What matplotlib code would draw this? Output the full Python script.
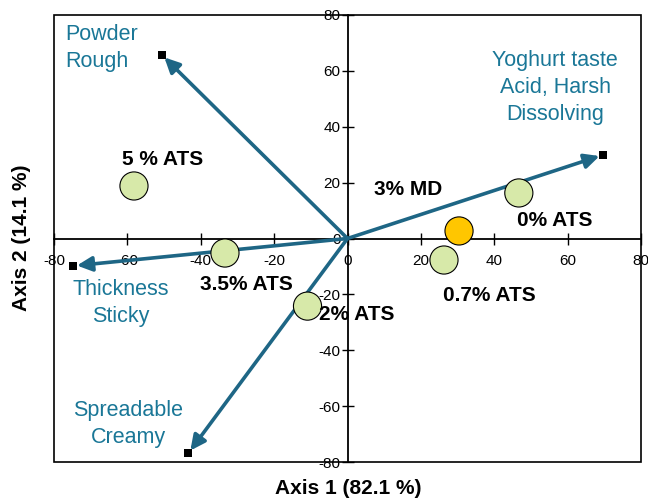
import matplotlib
matplotlib.use("Agg")
import matplotlib.pyplot as plt
from matplotlib.patches import Rectangle

plt.rcParams["font.family"] = ["Liberation Sans", "DejaVu Sans"]
plt.rcParams["axes.unicode_minus"] = False

# Attribute vectors (loadings, scaled)
vec_labels = ["Powder\nRough", "Yoghurt taste\nAcid, Harsh\nDissolving",
              "Thickness\nSticky", "Spreadable\nCreamy"]
vec_x = [-50.6, 69.6, -74.7, -43.4]
vec_y = [65.7, 29.9, -9.8, -76.9]
vec_label_x = [-77.0, 56.6, -61.7, -59.7]
vec_label_y = [68.2, 54.1, -23.1, -66.4]
vec_label_ha = ["left", "center", "center", "center"]

# Samples (scores)
samples = ["5 % ATS", "3.5% ATS", "2% ATS", "0.7% ATS", "3% MD", "0% ATS"]
score_x = [-58.2, -33.4, -10.9, 26.3, 30.4, 46.7]
score_y = [18.8, -5.2, -24.2, -7.7, 2.7, 16.3]
sample_colors = ["#D7E9A9", "#D7E9A9", "#D7E9A9", "#D7E9A9", "#FFC600", "#D7E9A9"]
sample_label_x = [-50.4, -27.6, 2.6, 38.8, 16.5, 56.6]
sample_label_y = [28.1, -16.5, -27.3, -20.4, 17.7, 6.4]

ticks = [-80, -60, -40, -20, 0, 20, 40, 60, 80]

arrow_col = "#1E6685"
text_col = "#1A7797"

fig = plt.figure(figsize=(6.48, 5.0), dpi=100)
ax = fig.add_axes([54 / 648, 1 - 462 / 500, 587 / 648, 447 / 500])
ax.set_xlim(-80, 80)
ax.set_ylim(-80, 80)

# axes crossing at the origin
ax.spines["left"].set_position(("data", 0))
ax.spines["bottom"].set_position(("data", 0))
ax.spines["top"].set_visible(False)
ax.spines["right"].set_visible(False)
for s in ("left", "bottom"):
    ax.spines[s].set_linewidth(1.3)
    ax.spines[s].set_color("black")
ax.set_xticks(ticks)
ax.set_yticks(ticks)
ax.set_xticklabels([str(t) for t in ticks])
ax.set_yticklabels([str(t) for t in ticks])
ax.tick_params(axis="both", direction="inout", length=8, width=1.0,
               labelsize=11, colors="black")
ax.tick_params(axis="x", pad=7)
ax.tick_params(axis="y", pad=1)

# outer frame
ax.add_patch(Rectangle((0, 0), 1, 1, transform=ax.transAxes, fill=False,
                       edgecolor="black", linewidth=1.2, clip_on=False, zorder=1))

# vectors
for x, y in zip(vec_x, vec_y):
    ax.annotate("", xy=(x, y), xytext=(0, 0),
                arrowprops=dict(arrowstyle="-|>,head_length=0.45,head_width=0.22",
                                mutation_scale=20, color=arrow_col, lw=2.6,
                                shrinkA=0, shrinkB=2.5),
                zorder=3)
ax.scatter(vec_x, vec_y, marker="s", s=28, color="black", zorder=4, linewidths=0)

for lab, x, y, ha in zip(vec_labels, vec_label_x, vec_label_y, vec_label_ha):
    ax.text(x, y, lab, color=text_col, fontsize=15.5, ha=ha, va="center",
            multialignment="center" if ha == "center" else "left",
            linespacing=1.38, zorder=6)

# samples
ax.scatter(score_x, score_y, s=410, c=sample_colors, edgecolors="black",
           linewidths=0.8, zorder=5)
for lab, x, y in zip(samples, sample_label_x, sample_label_y):
    ax.text(x, y, lab, fontsize=15, fontweight="bold", ha="center",
            va="center", color="black", zorder=6)

fig.text(348 / 648, 1 - 488 / 500, "Axis 1 (82.1 %)", fontsize=15,
         fontweight="bold", ha="center", va="center")
fig.text(22 / 648, 1 - 238 / 500, "Axis 2 (14.1 %)", fontsize=15,
         fontweight="bold", ha="center", va="center", rotation=90)

fig.savefig("out.png", dpi=100)
